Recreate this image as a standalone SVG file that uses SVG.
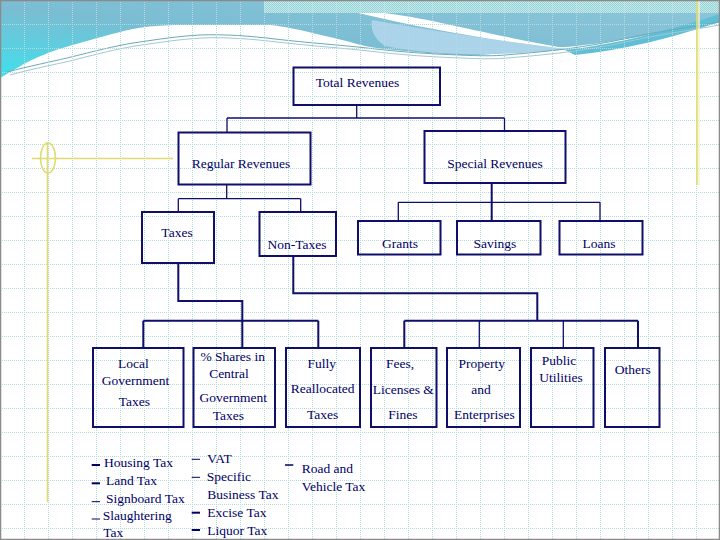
<svg xmlns="http://www.w3.org/2000/svg" width="720" height="540" viewBox="0 0 720 540">
<defs>
<linearGradient id="bannerGrad" x1="1" y1="0" x2="0" y2="1">
<stop offset="0" stop-color="#8ec6da"/>
<stop offset="0.55" stop-color="#7abdd3"/>
<stop offset="1" stop-color="#3fe0ec"/>
</linearGradient>
<pattern id="hatch" width="2" height="2" patternUnits="userSpaceOnUse">
<rect width="2" height="2" fill="#c4eaea"/>
<rect width="1" height="1" fill="#96d2d8"/>
<rect x="1" y="1" width="1" height="1" fill="#96d2d8"/>
</pattern>
<pattern id="grid" width="24" height="24" patternUnits="userSpaceOnUse">
<path d="M0 0.5H24M0.5 0V24" fill="none" stroke="#b6d9e0" stroke-width="1" stroke-dasharray="1 1"/>
</pattern>
<style>
.box{fill:none;stroke:#0f0f6b;stroke-width:2}
.lbl{font-family:"Liberation Serif","Times New Roman",serif;font-size:13.5px;fill:#000066;text-anchor:middle}
.lst{font-family:"Liberation Serif","Times New Roman",serif;font-size:13.5px;fill:#000066}
.thin{fill:none;stroke:#0f0f6b;stroke-width:1.3}
.thick{fill:none;stroke:#0f0f6b;stroke-width:2}
.yel{fill:none;stroke:#dedc72;stroke-width:1.6}
.dash{stroke:#000066}
</style>
</defs>
<rect width="720" height="540" fill="#ffffff"/>
<g id="banner">
<path d="M0,0H720V16C690,26 660,34 619,40C590,45 560,48 528,50C505,53 482,56 460,55C440,54 413,52 395,50C380,49 367,47 350,42C335,38 321,35 300,30C285,27 275,25 266,25L175,25C160,26 150,26 145,27C130,29 120,32 97,38C80,43 60,48 48,53C35,58 25,63 17,68L0,78Z" fill="url(#bannerGrad)"/>
<rect x="264" y="0" width="456" height="13" fill="url(#hatch)"/>
<path d="M372,20C430,30 500,42 572,49C540,52 500,55 462,54C430,53 405,50 385,46C375,40 370,30 372,20Z" fill="#abd3ea"/>
<path d="M358,13L384,13C430,18 500,38 578,50C500,42 430,30 358,13Z" fill="#ffffff"/>
<path d="M565,50C620,44 670,30 720,14L720,22C670,38 625,50 575,55Z" fill="#5ebfd6"/>
<path d="M7,72C30,66 50,62 67,58C95,51 115,46 133,43C160,39 180,36 200,35C225,34 250,36 275,39C310,43 340,45 367,48C400,52 430,54 459,55C480,56 495,56 505,55C530,53 550,51 573,48C600,44 620,40 642,35C670,30 695,26 720,22" fill="none" stroke="#6ea9b8" stroke-width="1"/>
<path d="M10,75C32,69 52,65 70,61C97,54 117,49 135,46C162,42 182,39 202,38C227,37 252,39 277,42C312,46 342,48 369,51C402,55 432,57 461,58C482,59 497,59 507,58C532,56 552,54 575,51C602,47 622,43 644,38C672,33 697,29 720,25" fill="none" stroke="#a2c8d2" stroke-width="1"/>
</g>
<rect width="720" height="540" fill="url(#grid)"/>
<g id="decor">
<line x1="697" y1="0" x2="697" y2="185" class="yel"/>
<line x1="699" y1="0" x2="699" y2="185" stroke="#f6f2c8" stroke-width="1.5"/>
<line x1="47.5" y1="142" x2="47.5" y2="502" class="yel" stroke-width="2"/>
<line x1="32" y1="158.5" x2="173" y2="158.5" class="yel"/>
<ellipse cx="48" cy="158" rx="7.5" ry="15" class="yel" stroke-width="1"/>
<rect x="0.5" y="0.5" width="719" height="539" fill="none" stroke="#8a8a8a" stroke-width="1.5"/>
</g>
<g id="connectors">
<path class="thin" d="M356.7,105V118M227,118H504.5M227,118V132.5M504.5,118V131"/>
<path class="thin" d="M226.7,184.5V198.7M178.3,198.7H300.7M178.3,198.7V212M300.7,198.7V212"/>
<path class="thick" d="M491.7,183V221"/>
<path class="thin" d="M398.3,202.3H600M398.3,202.3V221M600,202.3V221"/>
<path class="thick" d="M178.3,263V301H242.3V348M143.3,320.7H318.3M143.3,320.7V348M318.3,320.7V348"/>
<path class="thick" d="M293.3,256V293.3H537.3V320.7M404.3,320.7H638M404.3,320.7V348M638,320.7V348"/>
<path class="thin" d="M479.3,320.7V348M563.3,320.7V348"/>
</g>
<g id="n-total"><rect class="box" x="293.5" y="67.5" width="146.5" height="37.5"/><text class="lbl" x="357.5" y="86.5">Total Revenues</text></g>
<g id="n-regular"><rect class="box" x="178.5" y="132.5" width="132" height="52"/><text class="lbl" x="241" y="168">Regular Revenues</text></g>
<g id="n-special"><rect class="box" x="424.5" y="131" width="141" height="52"/><text class="lbl" x="495" y="167.5">Special Revenues</text></g>
<g id="n-taxes"><rect class="box" x="142" y="212" width="72" height="51"/><text class="lbl" x="177" y="237">Taxes</text></g>
<g id="n-nontaxes"><rect class="box" x="259.5" y="212" width="76.5" height="44"/><text class="lbl" x="297" y="248.5">Non-Taxes</text></g>
<g id="n-grants"><rect class="box" x="358" y="221" width="82.5" height="33.5"/><text class="lbl" x="400" y="247.5">Grants</text></g>
<g id="n-savings"><rect class="box" x="457" y="221" width="83.5" height="33.5"/><text class="lbl" x="495" y="248">Savings</text></g>
<g id="n-loans"><rect class="box" x="559.5" y="221" width="83" height="33.5"/><text class="lbl" x="599" y="248">Loans</text></g>
<g id="n-local"><rect class="box" x="93" y="348" width="90.5" height="79"/><text class="lbl" x="133.3" y="368">Local</text><text class="lbl" x="135.5" y="385">Government</text><text class="lbl" x="134.3" y="406">Taxes</text></g>
<g id="n-shares"><rect class="box" x="193.5" y="348" width="81.5" height="79"/><text class="lbl" x="232.7" y="361">% Shares in</text><text class="lbl" x="229" y="377.7">Central</text><text class="lbl" x="233.3" y="401.7">Government</text><text class="lbl" x="228.3" y="420">Taxes</text></g>
<g id="n-fully"><rect class="box" x="286" y="348" width="74" height="79"/><text class="lbl" x="321.7" y="368">Fully</text><text class="lbl" x="322.7" y="393.3">Reallocated</text><text class="lbl" x="322.7" y="419.3">Taxes</text></g>
<g id="n-fees"><rect class="box" x="371" y="348" width="65.5" height="79"/><text class="lbl" x="400" y="368">Fees,</text><text class="lbl" x="403.3" y="394.3">Licenses &amp;</text><text class="lbl" x="403" y="419.3">Fines</text></g>
<g id="n-property"><rect class="box" x="447" y="348" width="73" height="79"/><text class="lbl" x="481.7" y="368">Property</text><text class="lbl" x="481" y="394.3">and</text><text class="lbl" x="484.3" y="419.3">Enterprises</text></g>
<g id="n-public"><rect class="box" x="531" y="348" width="62.5" height="79"/><text class="lbl" x="559" y="365">Public</text><text class="lbl" x="561" y="381.7">Utilities</text></g>
<g id="n-others"><rect class="box" x="605" y="348" width="54.5" height="79"/><text class="lbl" x="632.7" y="374.3">Others</text></g>
<g id="list-local">
<line class="dash" x1="91.7" y1="465" x2="100" y2="465" stroke-width="2"/>
<line class="dash" x1="91.7" y1="483.3" x2="100" y2="483.3" stroke-width="2"/>
<line class="dash" x1="91.7" y1="501.7" x2="100" y2="501.7" stroke-width="1"/>
<line class="dash" x1="91.7" y1="519" x2="100" y2="519" stroke-width="1"/>
<text class="lst" x="104" y="466.7">Housing Tax</text>
<text class="lst" x="106" y="485">Land Tax</text>
<text class="lst" x="106" y="502.7">Signboard Tax</text>
<text class="lst" x="102.7" y="520">Slaughtering</text>
<text class="lst" x="103.3" y="536.7">Tax</text>
</g>
<g id="list-shares">
<line class="dash" x1="191.7" y1="459.3" x2="200" y2="459.3" stroke-width="1"/>
<line class="dash" x1="191.7" y1="477.3" x2="200" y2="477.3" stroke-width="1"/>
<line class="dash" x1="191.7" y1="512.7" x2="200" y2="512.7" stroke-width="2"/>
<line class="dash" x1="191.7" y1="530" x2="200" y2="530" stroke-width="2"/>
<text class="lst" x="207.3" y="463.3">VAT</text>
<text class="lst" x="206.7" y="480.7">Specific</text>
<text class="lst" x="207.3" y="499.3">Business Tax</text>
<text class="lst" x="207.3" y="517.3">Excise Tax</text>
<text class="lst" x="207.3" y="535">Liquor Tax</text>
</g>
<g id="list-fully">
<line class="dash" x1="285" y1="465" x2="293.3" y2="465" stroke-width="1.5"/>
<text class="lst" x="301.7" y="473.3">Road and</text>
<text class="lst" x="301.7" y="490.7">Vehicle Tax</text>
</g>
</svg>
